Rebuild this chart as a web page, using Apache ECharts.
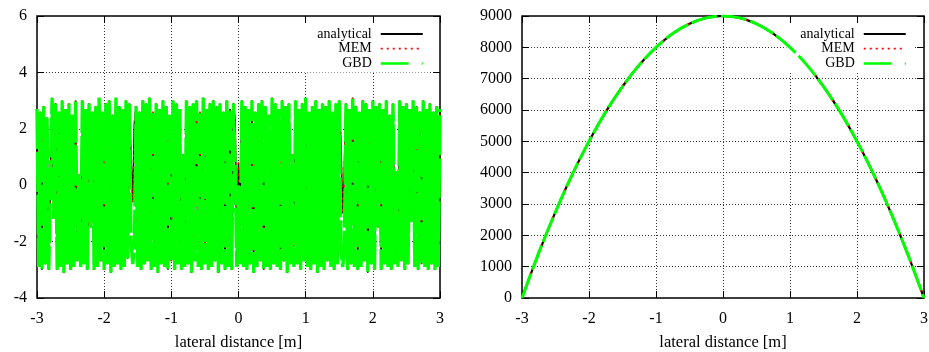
<!DOCTYPE html>
<html><head><meta charset="utf-8">
<script src="https://cdn.jsdelivr.net/npm/echarts@6/dist/echarts.min.js"></script>
<style>html,body{margin:0;padding:0;background:#fff}#c{width:929px;height:352px}</style>
</head><body><div id="c"></div><script>
// ---- data ----
const seriesNames = ['analytical', 'MEM', 'GBD'];
const xAxisName = 'lateral distance [m]';
// left panel: wrapped phase sampled on an even grid starting at -3 m
const phaseStartX = -3;
const phaseStepX = 0.025;
const phaseGBD = [
 2.7,-2.9,2.6,-3.0,2.8,-2.8,2.4,-3.0,0.3,3.1,
 -1.2,2.9,-3.0,2.6,-2.9,3.0,-3.1,2.7,-2.8,2.9,
 -3.0,2.5,-2.9,3.0,-2.7,0.4,-2.9,3.0,-2.8,2.7,
 -3.0,2.9,-1.5,2.6,-3.0,2.8,-2.9,3.1,-2.7,2.6,
 -3.0,2.9,-2.8,3.0,-3.1,2.5,-2.9,3.1,-2.8,2.8,
 -3.0,2.7,-2.9,3.0,-2.6,2.9,-2.0,-2.8,-2.3,2.8,
 -2.9,2.6,-3.0,3.0,-2.8,2.9,-2.7,3.1,-3.0,2.6,
 -2.9,2.9,-3.1,2.7,-2.8,3.0,-2.9,2.8,-3.0,2.5,
 -2.7,3.0,-3.0,2.9,-2.8,2.7,-3.0,1.1,-2.9,3.0,
 -2.8,2.8,-3.1,2.9,-2.7,3.0,-2.9,2.6,-3.0,3.1,
 -2.8,2.7,-3.0,2.9,-2.9,3.0,-2.7,2.8,-3.1,2.9,
 -2.8,2.6,-3.0,3.0,-2.9,2.7,-3.0,2.9,0.6,-2.9,
 0.0,-2.8,3.0,-2.9,2.8,-3.0,2.7,-2.8,3.0,-3.1,
 2.6,-2.9,2.9,-2.7,3.0,-3.0,2.8,-2.9,2.5,-3.0,
 3.1,-2.8,2.9,-2.9,2.7,-3.0,3.0,-2.7,2.8,-3.1,
 2.9,-2.8,1.1,-2.9,3.0,-2.8,2.7,-3.0,2.9,-2.7,
 3.1,-2.9,2.6,-3.0,2.8,-2.8,3.0,-3.1,2.7,-2.9,
 2.9,-3.0,2.8,-2.7,3.0,-2.9,2.6,-3.0,2.9,-2.8,
 3.0,-2.2,-2.9,-2.4,2.9,-3.0,2.7,-2.8,3.1,-2.9,
 2.8,-3.0,2.6,-2.9,3.0,-2.7,2.9,-3.1,2.7,-2.8,
 3.0,-3.0,2.8,-1.5,2.9,-3.0,2.7,-2.8,3.0,-2.9,
 2.5,-3.0,2.9,-2.8,0.5,-2.9,3.0,-2.7,2.8,-3.0,
 2.9,-2.8,2.7,-1.3,3.0,-2.9,2.8,-3.0,2.6,-2.8,
 3.0,-2.9,2.7,-3.0,2.9,-2.8,2.6,-3.0,2.8,-2.9,
 2.7
];
const phaseAnalytical = [
 2.7,-2.9,2.6,-3.0,2.8,-2.8,2.4,-3.0,0.3,3.1,
 -1.2,2.9,-3.0,2.6,-2.9,3.0,-3.1,2.7,-2.8,2.9,
 -3.0,2.5,-2.9,3.0,-2.7,0.4,-2.9,3.0,-2.8,2.7,
 -3.0,2.9,-1.5,2.6,-3.0,2.8,-2.9,3.1,-2.7,2.6,
 -3.0,2.9,-2.8,3.0,-3.1,2.5,-2.9,3.1,-2.8,2.8,
 -3.0,2.7,-2.9,3.0,-2.6,2.9,0.9,-0.6,2.2,2.8,
 -2.9,2.6,-3.0,3.0,-2.8,2.9,-2.7,3.1,-3.0,2.6,
 -2.9,2.9,-3.1,2.7,-2.8,3.0,-2.9,2.8,-3.0,2.5,
 -2.7,3.0,-3.0,2.9,-2.8,2.7,-3.0,1.1,-2.9,3.0,
 -2.8,2.8,-3.1,2.9,-2.7,3.0,-2.9,2.6,-3.0,3.1,
 -2.8,2.7,-3.0,2.9,-2.9,3.0,-2.7,2.8,-3.1,2.9,
 -2.8,2.6,-3.0,3.0,-2.9,2.7,-3.0,2.9,2.3,-2.1,
 0.8,-0.7,3.0,-2.9,2.8,-3.0,2.7,-2.8,3.0,-3.1,
 2.6,-2.9,2.9,-2.7,3.0,-3.0,2.8,-2.9,2.5,-3.0,
 3.1,-2.8,2.9,-2.9,2.7,-3.0,3.0,-2.7,2.8,-3.1,
 2.9,-2.8,1.1,-2.9,3.0,-2.8,2.7,-3.0,2.9,-2.7,
 3.1,-2.9,2.6,-3.0,2.8,-2.8,3.0,-3.1,2.7,-2.9,
 2.9,-3.0,2.8,-2.7,3.0,-2.9,2.6,-3.0,2.9,-2.8,
 3.0,1.5,-1.0,0.5,2.9,-3.0,2.7,-2.8,3.1,-2.9,
 2.8,-3.0,2.6,-2.9,3.0,-2.7,2.9,-3.1,2.7,-2.8,
 3.0,-3.0,2.8,-1.5,2.9,-3.0,2.7,-2.8,3.0,-2.9,
 2.5,-3.0,2.9,-2.8,0.5,-2.9,3.0,-2.7,2.8,-3.0,
 2.9,-2.8,2.7,-1.3,3.0,-2.9,2.8,-3.0,2.6,-2.8,
 3.0,-2.9,2.7,-3.0,2.9,-2.8,2.6,-3.0,2.8,-2.9,
 2.7
];
const phaseMEM = phaseAnalytical;
// right panel
const curveX = [-3,-2.75,-2.5,-2.25,-2,-1.75,-1.5,-1.25,-1,-0.75,-0.5,-0.25,0,0.25,0.5,0.75,1,1.25,1.5,1.75,2,2.25,2.5,2.75,3];
const curveAnalytical = [0,1440,2750,3940,5000,5940,6750,7440,8000,8440,8750,8940,9000,8940,8750,8440,8000,7440,6750,5940,5000,3940,2750,1440,0];
const curveMEM = curveAnalytical;
const curveGBD = curveAnalytical;
const leftYTicks = {min: -4, max: 6, interval: 2};
const rightYTicks = {min: 0, max: 9000, interval: 1000};
const xTicks = {min: -3, max: 3, interval: 1};

// ---- chart ----
const FONT = 'Liberation Serif';
const phasePairs = arr => arr.map((v, i) => [phaseStartX + i * phaseStepX, v]);
const curvePairs = arr => arr.map((v, i) => [curveX[i], v]);
const leftStyles = [
  {color: '#000000', width: 1.6, type: 'solid'},
  {color: '#ff0000', width: 1.6, type: [2, 4]},
  {color: '#00ff00', width: 3.4, type: [40, 3]}
];
const rightStyles = [
  {color: '#000000', width: 2.2, type: 'solid'},
  {color: '#ff0000', width: 2.2, type: [2, 3]},
  {color: '#00ff00', width: 3, type: [26, 4]}
];
const gridLine = {show: true, lineStyle: {color: '#333', width: 1, type: [1, 2]}};
function xAx(gi, bottom) {
  return {
    gridIndex: gi, type: 'value', min: xTicks.min, max: xTicks.max, interval: xTicks.interval,
    position: bottom ? 'bottom' : 'top',
    axisLine: {show: false, onZero: false},
    axisTick: {show: true, inside: true, length: 7, lineStyle: {color: '#000', width: 1}},
    axisLabel: {show: bottom, margin: 13, color: '#000', fontFamily: FONT, fontSize: 16, formatter: v => String(v)},
    splitLine: bottom ? gridLine : {show: false},
    name: bottom ? xAxisName : '', nameLocation: 'middle', nameGap: 36,
    nameTextStyle: {color: '#000', fontFamily: FONT, fontSize: 16.5}
  };
}
function yAx(gi, left, t) {
  return {
    gridIndex: gi, type: 'value', min: t.min, max: t.max, interval: t.interval,
    position: left ? 'left' : 'right',
    axisLine: {show: false, onZero: false},
    axisTick: {show: true, inside: true, length: 7, lineStyle: {color: '#000', width: 1}},
    axisLabel: {show: left, margin: 10, color: '#000', fontFamily: FONT, fontSize: 16, formatter: v => String(v)},
    splitLine: left ? gridLine : {show: false}
  };
}
function mkSeries(gi, name, data, k) {
  const st = gi === 0 ? leftStyles[k] : rightStyles[k];
  return {
    name, type: 'line', xAxisIndex: gi * 2, yAxisIndex: gi * 2, data,
    symbol: 'none', showSymbol: false, lineStyle: st, itemStyle: {color: st.color},
    smooth: gi === 1 ? 0.3 : false,
    z: 2 + k, animation: false, silent: true
  };
}
function mkLegend(right) {
  return {
    data: seriesNames.map((n, k) => ({name: n, lineStyle: k === 2 ? {type: [28, 13], width: 2.5} : {width: 1.8}})),
    orient: 'vertical', align: 'right', right, top: 25,
    itemWidth: 42, itemHeight: 12, itemGap: 0.7,
    padding: [2, 6, 2, 14], backgroundColor: '#fff',
    itemStyle: {opacity: 0, color: 'transparent', borderWidth: 0},
    textStyle: {color: '#000', fontFamily: FONT, fontSize: 14, lineHeight: 13, padding: [0, 4, 0, 0]},
    selectedMode: false
  };
}
const gridBase = {top: 16, height: 282, show: true, borderColor: '#000', borderWidth: 1.5,
  backgroundColor: 'transparent', containLabel: false, outerBoundsMode: 'none'};
const chart = echarts.init(document.getElementById('c'), null, {renderer: 'canvas'});
chart.setOption({
  animation: false,
  backgroundColor: '#fff',
  grid: [
    Object.assign({left: 37, width: 403}, gridBase),
    Object.assign({left: 522, width: 402}, gridBase)
  ],
  xAxis: [xAx(0, true), xAx(0, false), xAx(1, true), xAx(1, false)],
  yAxis: [yAx(0, true, leftYTicks), yAx(0, false, leftYTicks), yAx(1, true, rightYTicks), yAx(1, false, rightYTicks)],
  legend: [mkLegend(929 - 430), mkLegend(929 - 913)],
  series: [
    mkSeries(0, 'analytical', phasePairs(phaseAnalytical), 0),
    mkSeries(0, 'MEM', phasePairs(phaseMEM), 1),
    mkSeries(0, 'GBD', phasePairs(phaseGBD), 2),
    mkSeries(1, 'analytical', curvePairs(curveAnalytical), 0),
    mkSeries(1, 'MEM', curvePairs(curveMEM), 1),
    mkSeries(1, 'GBD', curvePairs(curveGBD), 2)
  ]
});
</script></body></html>
